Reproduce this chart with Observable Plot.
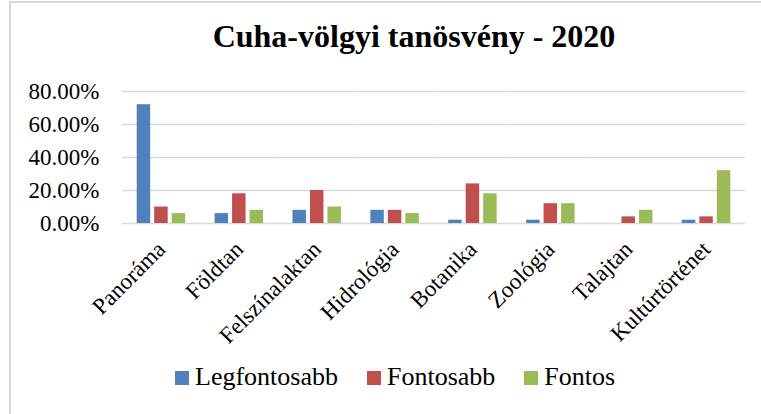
<!DOCTYPE html>
<html>
<head>
<meta charset="utf-8">
<script src="https://cdn.jsdelivr.net/npm/d3@7"></script>
<script src="https://cdn.jsdelivr.net/npm/@observablehq/plot@0.6"></script>
<style>
  html, body { margin: 0; padding: 0; background: #fff; overflow: hidden; }
  #frame {
    margin-left: 9px; margin-top: 1px;
    border-left: 2px solid #d9d9d9; border-top: 2px solid #d9d9d9;
    width: 750px; height: 420px; box-sizing: content-box;
  }
  #title {
    height: 46px; padding-top: 15px; padding-left: 56px;
    text-align: center;
    font: bold 32px "Liberation Serif", "Times New Roman", serif;
    line-height: 36px; color: #000;
  }
  #chart svg { display: block; }
  #legend {
    display: flex; align-items: center; padding-left: 164px; padding-top: 8px;
    font-family: "Liberation Serif", "Times New Roman", serif; font-size: 26px; line-height: 30px; color: #000;
  }
  .item { display: flex; align-items: center; margin-right: 29px; }
  .sw { width: 14px; height: 14px; margin-right: 6px; margin-top: 2px; }
</style>
</head>
<body>
<div id="frame">
  <div id="title">Cuha-völgyi tanösvény - 2020</div>
  <div id="chart"></div>
  <div id="legend"></div>
</div>
<script>
const categories = ["Panoráma", "Földtan", "Felszínalaktan", "Hidrológia", "Botanika", "Zoológia", "Talajtan", "Kultúrtörténet"];
const series = ["Legfontosabb", "Fontosabb", "Fontos"];
const legfontosabb = [0.72, 0.06, 0.08, 0.08, 0.02, 0.02, 0.00, 0.02];
const fontosabb = [0.10, 0.18, 0.20, 0.08, 0.24, 0.12, 0.04, 0.04];
const fontos = [0.06, 0.08, 0.10, 0.06, 0.18, 0.12, 0.08, 0.32];
const yTicks = [0, 0.2, 0.4, 0.6, 0.8];
const colors = ["#4f81bd", "#c0504d", "#9bbb59"];

const valuesBySeries = [legfontosabb, fontosabb, fontos];
const data = [];
categories.forEach((c, i) => {
  series.forEach((s, j) => {
    data.push({category: c, series: s, value: valuesBySeries[j][i]});
  });
});

const chart = Plot.plot({
  width: 750,
  height: 290,
  marginTop: 27,
  marginBottom: 131,
  marginLeft: 111,
  marginRight: 16,
  style: {fontFamily: "'Liberation Serif', 'Times New Roman', serif", fontSize: "23px", color: "#000", background: "transparent"},
  fx: {domain: categories, padding: 0, round: false, label: null, axis: "bottom", tickRotate: -45, tickSize: 0, tickPadding: 22, fontSize: 24},
  x: {domain: series, axis: null, round: false, paddingInner: 0.23, paddingOuter: 0.84},
  y: {domain: [0, 0.8], ticks: yTicks, tickFormat: d => (d * 100).toFixed(2) + "%", tickSize: 0, tickPadding: 23, label: null},
  color: {domain: series, range: colors},
  marks: [
    Plot.ruleY(yTicks, {stroke: "#d9d9d9", strokeWidth: 1.5}),
    Plot.barY(data, {fx: "category", x: "series", y: "value", fill: "series", inset: 0})
  ]
});
document.getElementById("chart").appendChild(chart);

const legend = document.getElementById("legend");
series.forEach((s, j) => {
  const item = document.createElement("div");
  item.className = "item";
  const sw = document.createElement("div");
  sw.className = "sw";
  sw.style.background = colors[j];
  const t = document.createElement("span");
  t.textContent = s;
  item.appendChild(sw);
  item.appendChild(t);
  legend.appendChild(item);
});
</script>
</body>
</html>
